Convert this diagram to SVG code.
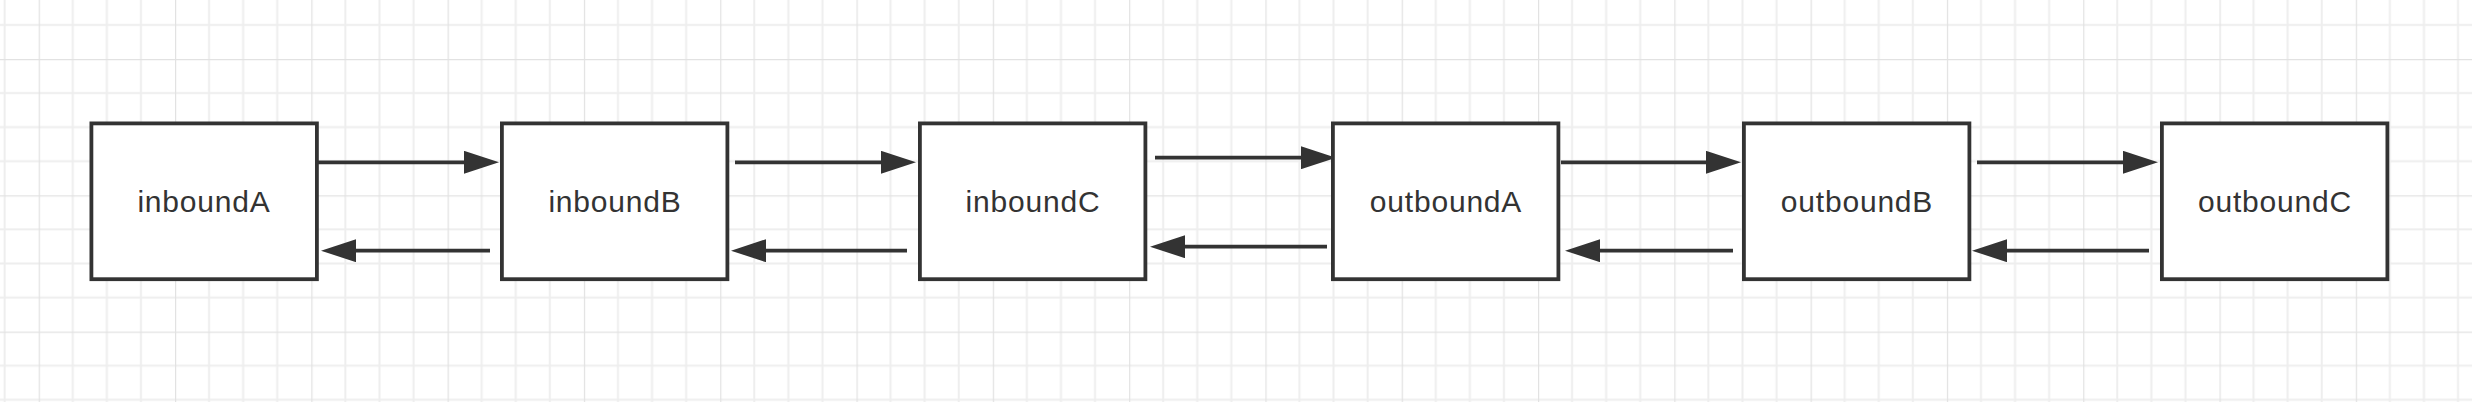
<svg xmlns="http://www.w3.org/2000/svg" width="2472" height="402" viewBox="0 0 2472 402">
<style>
.box{fill:#ffffff;stroke:#333333;stroke-width:3.8}
.lbl{font-family:"Liberation Sans",Arial,sans-serif;font-size:30px;fill:#333333;text-anchor:middle;letter-spacing:0.8px}
.conn{stroke:#333333;stroke-width:3.8;fill:none;marker-end:url(#arrow)}
</style>
<defs>
<marker id="arrow" viewBox="0 0 35 23" refX="25" refY="11.5" markerWidth="35" markerHeight="23" markerUnits="userSpaceOnUse" orient="auto">
<path d="M0,0 L35,11.5 L0,23 Z" fill="#333333"/>
</marker>
<pattern id="grid" patternUnits="userSpaceOnUse" x="38.7" y="59" width="136.3" height="136.3">
<path d="M34.075,0 V136.3 M68.15,0 V136.3 M102.225,0 V136.3 M0,34.075 H136.3 M0,68.15 H136.3 M0,102.225 H136.3" stroke="#eeeeee" stroke-width="2" fill="none"/>
<path d="M0,0 V136.3 M0,0 H136.3" stroke="#e2e2e2" stroke-width="2.4" fill="none"/>
</pattern>
</defs>
<rect width="2472" height="402" fill="#ffffff"/>
<rect width="2472" height="402" fill="url(#grid)"/>
<g id="connectors">
<line class="conn" x1="318" y1="162.3" x2="489" y2="162.3"/>
<line class="conn" x1="735" y1="162.3" x2="906" y2="162.3"/>
<line class="conn" x1="1155" y1="157.7" x2="1326" y2="157.7"/>
<line class="conn" x1="1561" y1="162.3" x2="1731" y2="162.3"/>
<line class="conn" x1="1977" y1="162.3" x2="2148" y2="162.3"/>
<line class="conn" x1="490" y1="250.7" x2="331" y2="250.7"/>
<line class="conn" x1="907" y1="250.7" x2="741" y2="250.7"/>
<line class="conn" x1="1327" y1="246.7" x2="1160" y2="246.7"/>
<line class="conn" x1="1733" y1="250.7" x2="1575" y2="250.7"/>
<line class="conn" x1="2149" y1="250.7" x2="1982" y2="250.7"/>
</g>
<g id="inboundA"><rect class="box" x="91.4" y="123.4" width="225.5" height="155.8"/><text class="lbl" x="204" y="212">inboundA</text></g>
<g id="inboundB"><rect class="box" x="501.9" y="123.4" width="225.5" height="155.8"/><text class="lbl" x="615" y="212">inboundB</text></g>
<g id="inboundC"><rect class="box" x="919.9" y="123.4" width="225.5" height="155.8"/><text class="lbl" x="1033" y="212">inboundC</text></g>
<g id="outboundA"><rect class="box" x="1332.9" y="123.4" width="225.5" height="155.8"/><text class="lbl" x="1446" y="212">outboundA</text></g>
<g id="outboundB"><rect class="box" x="1743.9" y="123.4" width="225.5" height="155.8"/><text class="lbl" x="1857" y="212">outboundB</text></g>
<g id="outboundC"><rect class="box" x="2161.9" y="123.4" width="225.5" height="155.8"/><text class="lbl" x="2275" y="212">outboundC</text></g>
</svg>
